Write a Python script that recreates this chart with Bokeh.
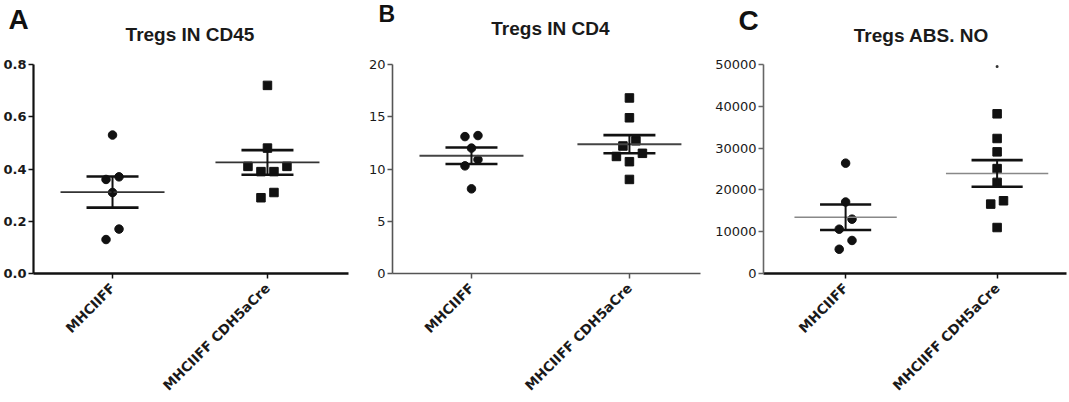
import numpy as np
from bokeh.plotting import figure
from bokeh.layouts import row
from bokeh.models import (FixedTicker, NumeralTickFormatter, Range1d, Title,
                          LinearAxis)
from bokeh.embed import file_html
from bokeh.resources import INLINE

# ---------------- data ----------------
categories = ["MHCIIFF", "MHCIIFF CDH5aCre"]
titles = ["Tregs IN CD45", "Tregs IN CD4", "Tregs ABS. NO"]
letters = ["A", "B", "C"]

a_ctrl = [0.53, 0.37, 0.36, 0.31, 0.17, 0.13]
a_cre = [0.72, 0.48, 0.41, 0.41, 0.39, 0.39, 0.31, 0.29]
b_ctrl = [13.2, 13.1, 12.0, 10.9, 10.3, 8.1]
b_cre = [16.8, 14.9, 12.7, 12.2, 11.5, 11.2, 10.7, 9.0]
c_ctrl = [26400, 17100, 13000, 10600, 7900, 5800]
c_cre = [38200, 32300, 29100, 25100, 21800, 17400, 16600, 11000]
c_stray = [49500]

a_ticks = [0, 0.2, 0.4, 0.6, 0.8]
b_ticks = [0, 5, 10, 15, 20]
c_ticks = [0, 10000, 20000, 30000, 40000, 50000]

HEIGHT = 401
TOP = 64
BOTTOM = 127


def swarm(vals, center, ppu_y, ppu_x, thresh=11.0, step=13.0):
    vals = np.asarray(vals, dtype=float)
    order = np.argsort(vals, kind="stable")
    xs = np.zeros(len(vals))
    rows, cur = [], []
    for i in order:
        if cur and (vals[i] - vals[cur[0]]) * ppu_y > thresh:
            rows.append(cur)
            cur = []
        cur.append(i)
    if cur:
        rows.append(cur)
    for r in rows:
        k = len(r)
        offs = [(j - (k - 1) / 2.0) * step for j in range(k)]
        offs = sorted(offs, key=lambda o: (abs(o), o))
        for i, o in zip(r, offs):
            xs[i] = center + o / ppu_x
    return xs


def make_panel(idx, ctrl, cre, ticks, fmt, width, bl, br, xr,
               yaxis_color, yaxis_w, xaxis_color, xaxis_w, tick_bold,
               mean_color, mean_w, letter_size, letter_off, letter_so,
               title_so, stray=None):
    ymax = ticks[-1]
    p = figure(width=width, height=HEIGHT, output_backend="svg",
               toolbar_location=None, x_range=Range1d(*xr),
               y_range=Range1d(0, ymax),
               min_border_left=bl, min_border_right=br,
               min_border_top=TOP, min_border_bottom=BOTTOM)
    p.outline_line_color = None
    p.xgrid.visible = False
    p.ygrid.visible = False

    fw = width - bl - br
    fh = HEIGHT - TOP - BOTTOM
    ppu_x = fw / (xr[1] - xr[0])
    ppu_y = fh / ymax

    # panel title drawn as the single label of an invisible top axis,
    # centred between the two groups
    tax = LinearAxis(ticker=FixedTicker(ticks=[1.5]),
                     major_label_overrides={1.5: titles[idx]},
                     axis_line_color=None, major_tick_line_color=None,
                     minor_tick_line_color=None, major_tick_in=0,
                     major_tick_out=0, major_label_standoff=title_so,
                     major_label_text_font="Liberation Sans",
                     major_label_text_font_style="bold",
                     major_label_text_font_size="19px",
                     major_label_text_color="#1a1a1a")
    p.add_layout(tax, "above")
    # panel letter
    p.title = Title(text=letters[idx], align="left", offset=letter_off,
                    standoff=letter_so, text_font="Liberation Sans",
                    text_font_style="bold", text_font_size=letter_size,
                    text_color="#111111")

    # x axis
    xax = p.below[0]
    xax.ticker = FixedTicker(ticks=[1, 2])
    xax.major_label_overrides = {1: categories[0], 2: categories[1]}
    xax.major_label_orientation = np.pi / 4
    xax.major_label_text_font = "DejaVu Sans"
    xax.major_label_text_font_style = "bold"
    xax.major_label_text_font_size = "13.5px"
    xax.major_label_text_color = "#1a1a1a"
    xax.major_label_standoff = 7
    xax.minor_tick_line_color = None
    xax.major_tick_in = 0
    xax.major_tick_out = 5
    xax.axis_line_color = xaxis_color
    xax.axis_line_width = xaxis_w
    xax.major_tick_line_color = xaxis_color
    xax.major_tick_line_width = 1.5

    # y axis
    yax = p.left[0]
    yax.ticker = FixedTicker(ticks=ticks)
    yax.formatter = NumeralTickFormatter(format=fmt)
    yax.minor_tick_line_color = None
    yax.major_tick_in = 0
    yax.major_tick_out = 5
    yax.major_label_standoff = 2
    yax.major_label_text_font = "DejaVu Sans"
    yax.major_label_text_font_size = "13px"
    yax.major_label_text_font_style = "bold" if tick_bold else "normal"
    yax.major_label_text_color = "#1a1a1a"
    yax.axis_line_color = yaxis_color
    yax.axis_line_width = yaxis_w
    yax.major_tick_line_color = yaxis_color
    yax.major_tick_line_width = 1.5

    mean_half = 52 / ppu_x
    sem_half = 26 / ppu_x
    for gi, (vals, marker) in enumerate([(ctrl, "circle"), (cre, "square")]):
        c = gi + 1
        arr = np.asarray(vals, dtype=float)
        m = arr.mean()
        s = arr.std(ddof=1) / np.sqrt(len(arr))
        xs = swarm(arr, c, ppu_y, ppu_x)
        p.scatter(xs, arr, marker=marker, size=8.5, fill_color="#111111",
                  line_color="#111111")
        p.segment(x0=[c - mean_half], y0=[m], x1=[c + mean_half], y1=[m],
                  line_color=mean_color, line_width=mean_w)
        p.segment(x0=[c - sem_half, c - sem_half], y0=[m - s, m + s],
                  x1=[c + sem_half, c + sem_half], y1=[m - s, m + s],
                  line_color="#111111", line_width=2.6)
        p.segment(x0=[c], y0=[m - s], x1=[c], y1=[m + s],
                  line_color="#111111", line_width=2)
    if stray is not None:
        p.scatter([2] * len(stray), stray, marker="circle", size=3,
                  fill_color="#333333", line_color=None)
    return p


pA = make_panel(0, a_ctrl, a_cre, a_ticks, "0.0", 362, 33, 14, (0.49, 2.523),
                "#111111", 2.2, "#111111", 2.6, True, "#333333", 1.8,
                "28px", -25, -28, 20)
pB = make_panel(1, b_ctrl, b_cre, b_ticks, "0", 350, 30, 12, (0.5, 2.45),
                "#555555", 1.6, "#555555", 1.6, False, "#444444", 2.0,
                "23px", -14, -24, 26)
pC = make_panel(2, c_ctrl, c_cre, c_ticks, "0", 355, 46, 1, (0.458, 2.458),
                "#666666", 1.6, "#111111", 2.6, False, "#888888", 1.5,
                "28px", -25, -28, 19, stray=c_stray)

layout = row(pA, pB, pC)
open("out.html", "w").write(file_html(layout, INLINE))
